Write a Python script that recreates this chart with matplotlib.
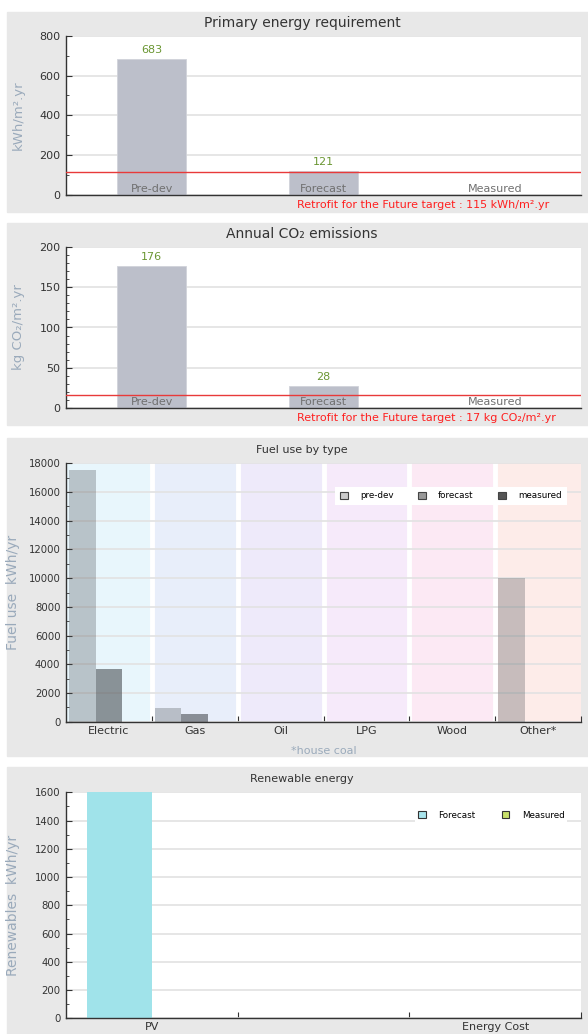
import matplotlib as mpl

mpl.use("Agg")

import matplotlib.pyplot as plt
from matplotlib.patches import Patch, Rectangle
from matplotlib.ticker import MultipleLocator

# --- data -------------------------------------------------------------
SUMMARY_CATS = ["Pre-dev", "Forecast", "Measured"]
PRIMARY_VALUES = [683, 121, 0]
PRIMARY_TARGET = 115
CO2_VALUES = [176, 28, 0]
CO2_TARGET = 17

FUEL_TYPES = ["Electric", "Gas", "Oil", "LPG", "Wood", "Other*"]
FUEL_PREDEV = [17500, 950, 0, 0, 0, 10000]
FUEL_FORECAST = [3700, 520, 0, 0, 0, 0]
FUEL_MEASURED = [0, 0, 0, 0, 0, 0]

RENEW_CATS = ["PV", "", "Energy Cost"]
RENEW_FORECAST = [1600, 0, 0]
RENEW_MEASURED = [0, 0, 0]

# --- style ------------------------------------------------------------
W, H = 588, 1034
PANEL_BG = "#e8e8e8"
BAR_GREY = "#bcbfca"
VALUE_GREEN = "#6a9632"
LABEL_BLUE = "#9aaabb"
TEXT_DARK = "#333333"
TARGET_RED = "#ff2020"
GRID = "#e2e2e2"
BAND_COLORS = ["#e8f6fc", "#e8eefa", "#eeeafa", "#f6eafa", "#fce9f4", "#fdece9"]
FUEL_BASE = (0.29, 0.31, 0.33)

mpl.rcParams.update({"font.family": "DejaVu Sans", "axes.linewidth": 1.0})


def px_rect(top, bottom, left=66, right=581):
    return [left / W, 1 - bottom / H, (right - left) / W, (bottom - top) / H]


def panel_bg(fig, top, bottom):
    rect = Rectangle((7 / W, 1 - bottom / H), (W - 7) / W, (bottom - top) / H,
                     transform=fig.transFigure, color=PANEL_BG, zorder=-1)
    fig.add_artist(rect)


def base_axis(ax, tick_size):
    for side in ("top", "right"):
        ax.spines[side].set_visible(False)
    ax.spines["left"].set_color(TEXT_DARK)
    ax.spines["bottom"].set_color(TEXT_DARK)
    ax.tick_params(axis="y", which="major", direction="in", length=4, labelsize=tick_size,
                   colors=TEXT_DARK, pad=4)
    ax.tick_params(axis="y", which="minor", direction="in", length=2.5, colors=TEXT_DARK)
    ax.yaxis.grid(True, which="major", color=GRID, lw=1.2)
    ax.set_axisbelow(True)


def summary_panel(fig, top, bottom, title, values, target, ylim, major, minor, ylabel, target_text):
    panel_bg(fig, top - 24, bottom + 17)
    ax = fig.add_axes(px_rect(top, bottom))
    base_axis(ax, 8)
    x = range(len(SUMMARY_CATS))
    ax.bar(x, values, width=0.4, color=BAR_GREY, edgecolor="#d0d3da", lw=0.6, zorder=2)
    for xi, v, cat in zip(x, values, SUMMARY_CATS):
        if v:
            ax.annotate(str(v), (xi, v), xytext=(0, 3), textcoords="offset points",
                        ha="center", va="bottom", fontsize=8, color=VALUE_GREEN)
        ax.annotate(cat, (xi, 0), xytext=(0, 1), textcoords="offset points",
                    ha="center", va="bottom", fontsize=8, color="#707070", zorder=4)
    ax.axhline(target, color="#e83a3a", lw=1.0, zorder=3)
    ax.set_xlim(-0.5, len(SUMMARY_CATS) - 0.5)
    ax.set_ylim(*ylim)
    ax.yaxis.set_major_locator(MultipleLocator(major))
    ax.yaxis.set_minor_locator(MultipleLocator(minor))
    ax.set_xticks([])
    ax.set_ylabel(ylabel, fontsize=9.5, color=LABEL_BLUE)
    ax.yaxis.set_label_coords(-0.08, 0.5)
    ax.text((297 - 66) / 515, -0.03, target_text, transform=ax.transAxes, ha="left", va="top",
            fontsize=8, color=TARGET_RED)
    fig.text(302 / W, 1 - (top - 13) / H, title, ha="center", va="center", fontsize=10, color=TEXT_DARK)
    return ax


def category_xaxis(ax, labels, label_size):
    n = len(labels)
    ax.set_xlim(-0.5, n - 0.5)
    ax.set_xticks([i + 0.5 for i in range(n)])
    ax.set_xticklabels([])
    ax.set_xticks(range(n), minor=True)
    ax.set_xticklabels(labels, minor=True)
    ax.tick_params(axis="x", which="major", direction="in", length=4, colors=TEXT_DARK)
    ax.tick_params(axis="x", which="minor", length=0, labelsize=label_size,
                   labelcolor=TEXT_DARK, pad=3)


def white_legend(ax, handles, anchor, spacing, pad):
    leg = ax.legend(handles=handles, ncol=len(handles), loc="upper right", bbox_to_anchor=anchor,
                    fontsize=6.3, frameon=True, fancybox=False, handlelength=0.9,
                    handleheight=0.9, columnspacing=spacing, handletextpad=1.4,
                    borderpad=pad, borderaxespad=0)
    frame = leg.get_frame()
    frame.set_facecolor("white")
    frame.set_edgecolor("none")
    frame.set_alpha(1)
    return leg


fig = plt.figure(figsize=(W / 100, H / 100), dpi=100)

# primary energy
summary_panel(fig, 35.7, 195, "Primary energy requirement", PRIMARY_VALUES, PRIMARY_TARGET,
              (0, 800), 200, 100, "kWh/m².yr",
              "Retrofit for the Future target : 115 kWh/m².yr")

# co2
summary_panel(fig, 246.7, 408.3, "Annual CO₂ emissions", CO2_VALUES, CO2_TARGET,
              (0, 200), 50, 10, "kg CO₂/m².yr",
              "Retrofit for the Future target : 17 kg CO₂/m².yr")

# fuel use by type
panel_bg(fig, 438, 756)
ax3 = fig.add_axes(px_rect(463.3, 721.7))
base_axis(ax3, 7.3)
for i, c in enumerate(BAND_COLORS):
    ax3.axvspan(i - 0.5, i + 0.5, color=c, lw=0, zorder=0)
for i in range(1, len(FUEL_TYPES)):
    ax3.axvline(i - 0.5, color="white", lw=3.5, zorder=0.5)
xs = range(len(FUEL_TYPES))
bw = 0.31
ax3.bar([x - bw for x in xs], FUEL_PREDEV, width=bw, color=FUEL_BASE, alpha=0.3, lw=0, zorder=2)
ax3.bar(list(xs), FUEL_FORECAST, width=bw, color=FUEL_BASE, alpha=0.6, lw=0, zorder=2)
ax3.bar([x + bw for x in xs], FUEL_MEASURED, width=bw, color=FUEL_BASE, alpha=0.85, lw=0, zorder=2)
ax3.set_ylim(0, 18000)
ax3.yaxis.set_major_locator(MultipleLocator(2000))
ax3.yaxis.set_minor_locator(MultipleLocator(1000))
category_xaxis(ax3, FUEL_TYPES, 8)
ax3.set_ylabel("Fuel use  kWh/yr", fontsize=10, color=LABEL_BLUE)
ax3.yaxis.set_label_coords(-0.089, 0.5)
ax3.text(0.5, -0.095, "*house coal", transform=ax3.transAxes, ha="center", va="top",
         fontsize=8, color=LABEL_BLUE)
fig.text(302 / W, 1 - 450 / H, "Fuel use by type", ha="center", va="center", fontsize=8,
         color=TEXT_DARK)
fuel_handles = [Patch(facecolor=fc, edgecolor="#444444", lw=0.8, label=lb)
                for fc, lb in (("#cccccc", "pre-dev"), ("#999999", "forecast"), ("#555555", "measured"))]
white_legend(ax3, fuel_handles, (0.972, 0.91), 2.8, 0.55)

# renewable energy
panel_bg(fig, 767, H)
ax4 = fig.add_axes(px_rect(792.3, 1018.3))
base_axis(ax4, 7.3)
xr = range(len(RENEW_CATS))
rw = 0.375
ax4.bar([x - rw / 2 for x in xr], RENEW_FORECAST, width=rw, color="#a0e3ea", lw=0, zorder=2)
ax4.bar([x + rw / 2 for x in xr], RENEW_MEASURED, width=rw, color="#c8e06a", lw=0, zorder=2)
ax4.set_ylim(0, 1600)
ax4.yaxis.set_major_locator(MultipleLocator(200))
ax4.yaxis.set_minor_locator(MultipleLocator(100))
category_xaxis(ax4, RENEW_CATS, 8)
ax4.set_ylabel("Renewables  kWh/yr", fontsize=10, color=LABEL_BLUE)
ax4.yaxis.set_label_coords(-0.089, 0.5)
fig.text(302 / W, 1 - 779 / H, "Renewable energy", ha="center", va="center", fontsize=8,
         color=TEXT_DARK)
renew_handles = [Patch(facecolor=fc, edgecolor="#333333", lw=0.8, label=lb)
                 for fc, lb in (("#a8e4ec", "Forecast"), ("#c8e06a", "Measured"))]
white_legend(ax4, renew_handles, (0.973, 0.93), 3.0, 0.3)

fig.savefig("out.png", dpi=100)
